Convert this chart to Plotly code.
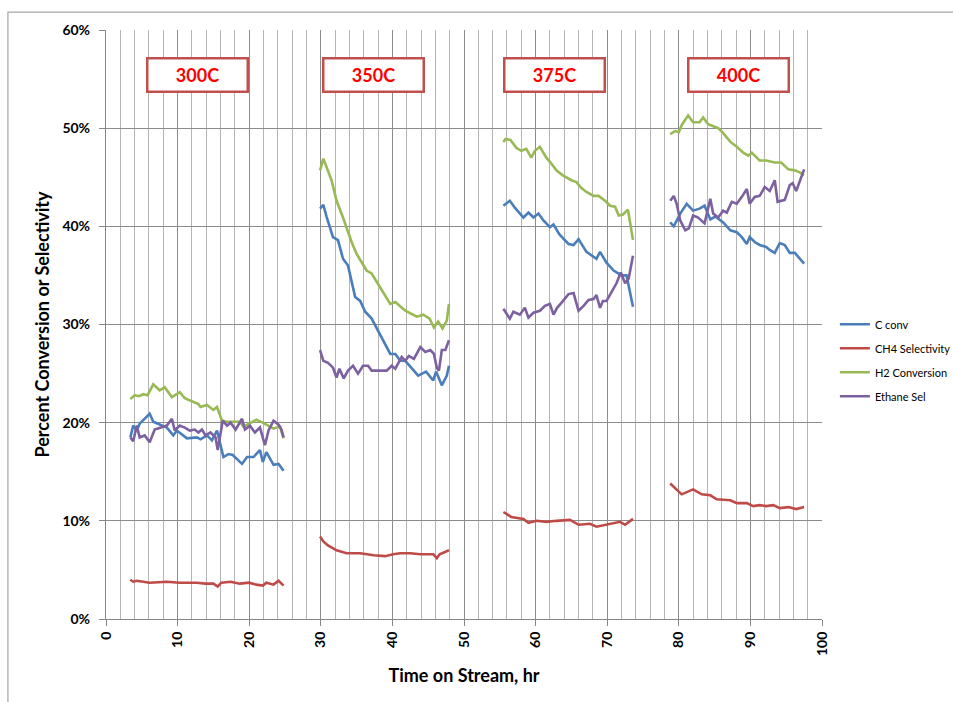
import plotly.graph_objects as go

# Time on stream (hr) and measured values (%), one run per temperature step;
# None separates the runs so each is drawn as its own stretch of line.
C_CONV_T = [3.4, 3.8, 4.3, 4.7, 6.1, 6.6, 8.5, 9.4, 9.9, 11.3, 12.7, 13.2, 14.1, 14.8, 15.5, 16.4, 17.1, 17.7, 19.0, 19.7, 20.6, 21.5, 21.9, 22.4, 23.4, 24.1, 24.8, None,
            29.9, 30.35, 30.8, 31.7, 32.4, 33.1, 33.8, 34.8, 35.5, 36.2, 37.1, 38.3, 39.7, 40.4, 41.1, 41.8, 43.6, 44.7, 45.7, 46.1, 46.9, 47.6, 47.9, None,
            55.5, 56.4, 57.1, 58.3, 59.0, 59.7, 60.4, 61.1, 62.0, 62.5, 63.3, 64.6, 65.3, 66.0, 67.1, 68.5, 69.0, 69.9, 70.9, 72.0, 72.7, 73.6, None,
            78.8, 79.3, 80.2, 81.1, 82.0, 82.9, 83.6, 84.4, 85.1, 86.2, 87.2, 88.1, 88.8, 89.5, 89.9, 90.6, 91.3, 92.2, 92.7, 93.4, 94.1, 94.8, 95.5, 96.2, 97.5]
C_CONV = [18.5, 19.7, 19.2, 19.9, 20.9, 20.1, 19.5, 18.7, 19.2, 18.4, 18.5, 18.3, 18.7, 18.2, 19.2, 16.5, 16.8, 16.7, 15.8, 16.5, 16.5, 17.2, 16.0, 17.0, 15.7, 15.8, 15.1, None,
          41.8, 42.2, 41.0, 38.9, 38.6, 36.7, 36.0, 32.8, 32.4, 31.3, 30.6, 28.9, 27.0, 27.0, 26.3, 26.3, 24.8, 25.2, 24.3, 25.2, 23.8, 24.8, 25.8, None,
          42.1, 42.6, 41.9, 40.9, 41.4, 40.9, 41.3, 40.6, 39.9, 40.2, 39.2, 38.2, 38.1, 38.7, 37.4, 36.7, 37.4, 36.3, 35.5, 35.0, 35.0, 31.8, None,
          40.4, 40.0, 41.3, 42.3, 41.6, 41.8, 42.1, 40.7, 41.0, 40.4, 39.6, 39.4, 38.9, 38.2, 38.9, 38.4, 38.1, 37.9, 37.6, 37.3, 38.3, 38.1, 37.3, 37.3, 36.2]

CH4_SEL_T = [3.4, 3.8, 4.3, 5.4, 6.1, 8.5, 10.3, 12.7, 13.9, 15.0, 15.6, 16.1, 17.4, 18.7, 20.0, 21.0, 21.9, 22.4, 23.4, 24.1, 24.8, None,
             29.9, 30.35, 31.0, 32.2, 33.6, 35.5, 37.4, 39.0, 40.1, 41.1, 42.5, 43.9, 45.7, 46.2, 46.6, 47.9, None,
             55.5, 56.6, 58.3, 59.0, 60.1, 61.5, 62.9, 64.8, 66.0, 67.6, 68.5, 69.9, 70.9, 71.8, 72.5, 73.6, None,
             78.8, 79.5, 80.4, 82.0, 83.2, 84.4, 85.3, 87.2, 88.1, 89.5, 90.4, 91.3, 92.2, 93.2, 94.1, 95.3, 96.4, 97.5]
CH4_SEL = [4.0, 3.8, 3.9, 3.8, 3.7, 3.8, 3.7, 3.7, 3.6, 3.6, 3.3, 3.7, 3.8, 3.6, 3.7, 3.5, 3.4, 3.7, 3.5, 3.9, 3.4, None,
           8.4, 7.9, 7.5, 7.0, 6.7, 6.7, 6.5, 6.4, 6.6, 6.7, 6.7, 6.6, 6.6, 6.2, 6.6, 7.0, None,
           10.9, 10.4, 10.2, 9.8, 10.0, 9.9, 10.0, 10.1, 9.6, 9.7, 9.4, 9.6, 9.7, 9.9, 9.6, 10.2, None,
           13.8, 13.3, 12.7, 13.2, 12.7, 12.6, 12.2, 12.1, 11.8, 11.8, 11.5, 11.6, 11.5, 11.6, 11.3, 11.4, 11.2, 11.4]

H2_CONV_T = [3.4, 4.0, 4.6, 5.2, 5.8, 6.6, 7.5, 8.2, 9.2, 10.3, 11.0, 12.9, 13.2, 14.1, 15.0, 15.5, 16.2, 16.9, 18.7, 19.2, 21.0, 21.9, 23.4, 24.3, 24.8, None,
             29.9, 30.35, 31.5, 32.2, 33.1, 34.3, 35.0, 36.4, 37.1, 38.3, 39.7, 40.4, 41.1, 41.8, 43.4, 44.3, 45.2, 45.8, 46.4, 47.0, 47.6, 47.9, None,
             55.5, 55.8, 56.5, 57.3, 58.0, 58.7, 59.4, 59.9, 60.6, 61.5, 62.2, 62.9, 63.8, 65.0, 65.7, 66.4, 67.1, 68.1, 68.8, 69.7, 70.4, 71.1, 71.6, 72.2, 72.9, 73.6, None,
             78.8, 79.5, 80.0, 80.4, 81.3, 82.0, 82.9, 83.4, 84.1, 84.8, 85.5, 86.2, 87.2, 88.1, 89.0, 89.7, 90.2, 91.3, 92.2, 93.4, 94.3, 95.3, 96.2, 96.9, 97.5]
H2_CONV = [22.4, 22.8, 22.7, 22.9, 22.8, 23.9, 23.3, 23.6, 22.6, 23.1, 22.5, 21.9, 21.6, 21.8, 21.3, 21.6, 20.2, 20.1, 20.1, 19.6, 20.3, 20.0, 19.4, 19.6, 18.4, None,
           45.7, 46.9, 44.7, 42.6, 40.9, 38.4, 37.2, 35.5, 35.2, 33.8, 32.1, 32.3, 31.8, 31.4, 30.8, 31.0, 30.6, 29.7, 30.3, 29.6, 30.4, 32.1, None,
           48.6, 48.9, 48.8, 48.0, 47.7, 47.9, 47.0, 47.7, 48.1, 47.0, 46.4, 45.7, 45.2, 44.7, 44.5, 43.9, 43.5, 43.1, 43.1, 42.6, 42.1, 42.0, 41.1, 41.2, 41.7, 38.6, None,
           49.4, 49.7, 49.6, 50.3, 51.3, 50.6, 50.6, 51.1, 50.4, 50.2, 50.0, 49.5, 48.6, 48.1, 47.5, 47.2, 47.5, 46.7, 46.7, 46.5, 46.5, 45.8, 45.7, 45.5, 45.2]

ETHANE_SEL_T = [3.4, 3.8, 4.3, 4.7, 5.4, 6.1, 6.8, 7.7, 8.5, 9.2, 9.6, 10.3, 11.0, 11.7, 12.4, 12.9, 13.4, 13.9, 14.6, 15.3, 15.6, 16.3, 16.9, 17.4, 18.1, 19.0, 19.4, 20.1, 20.8, 21.5, 22.2, 22.7, 23.4, 24.1, 24.5, 24.8, None,
                29.9, 30.35, 31.0, 31.7, 32.2, 32.6, 33.2, 33.8, 34.5, 35.2, 35.9, 36.6, 37.1, 39.2, 39.9, 40.4, 41.3, 41.8, 42.3, 43.0, 43.9, 44.6, 45.3, 45.8, 46.2, 46.5, 46.9, 47.4, 47.9, None,
                55.5, 56.4, 56.9, 57.8, 58.5, 59.0, 59.7, 60.6, 61.3, 62.0, 62.5, 63.0, 63.6, 64.6, 65.3, 66.0, 66.7, 67.4, 68.1, 68.5, 69.0, 69.4, 69.9, 70.9, 71.3, 71.9, 72.5, 73.0, 73.6, None,
                78.8, 79.3, 79.7, 80.2, 80.9, 81.4, 82.0, 82.7, 83.6, 84.4, 84.8, 85.5, 86.2, 86.7, 87.4, 88.1, 88.8, 89.5, 89.9, 90.6, 91.3, 92.0, 92.7, 93.4, 93.8, 94.8, 95.5, 95.9, 96.4, 97.5]
ETHANE_SEL = [18.5, 18.1, 19.7, 18.5, 18.7, 18.0, 19.3, 19.5, 19.7, 20.4, 19.2, 19.7, 19.5, 19.2, 19.3, 19.0, 19.3, 18.7, 19.0, 18.5, 17.2, 20.2, 19.7, 20.0, 19.3, 20.4, 19.3, 19.7, 19.0, 19.5, 17.7, 19.2, 20.2, 19.8, 19.3, 18.5, None,
              27.4, 26.3, 26.1, 25.6, 24.6, 25.5, 24.5, 25.3, 25.8, 25.0, 25.8, 25.8, 25.3, 25.3, 25.8, 25.5, 26.7, 26.3, 26.8, 26.5, 27.7, 27.2, 27.4, 27.0, 25.6, 25.3, 27.4, 27.4, 28.4, None,
              31.6, 30.6, 31.3, 31.0, 31.7, 30.7, 31.2, 31.4, 31.9, 32.1, 31.0, 31.7, 32.2, 33.1, 33.2, 31.4, 31.9, 32.5, 32.6, 33.0, 31.7, 32.4, 32.4, 33.8, 34.2, 35.3, 34.2, 34.7, 37.0, None,
              42.6, 43.1, 42.3, 40.6, 39.6, 39.8, 41.1, 40.9, 40.3, 42.8, 41.3, 40.9, 41.6, 41.4, 42.5, 42.3, 43.0, 43.8, 42.3, 43.0, 43.1, 44.0, 43.6, 44.7, 42.5, 42.7, 44.2, 44.4, 43.6, 45.8]

TEMP_LABELS = ["300C", "350C", "375C", "400C"]
TEMP_LABEL_X = [12.8, 37.3, 62.7, 88.3]
TEMP_LABEL_Y = 55.4

SERIES = [
    ("C conv", C_CONV_T, C_CONV, "#4a7ebb"),
    ("CH4 Selectivity", CH4_SEL_T, CH4_SEL, "#be4b48"),
    ("H2 Conversion", H2_CONV_T, H2_CONV, "#98b954"),
    ("Ethane Sel", ETHANE_SEL_T, ETHANE_SEL, "#7d60a0"),
]

FONT = "Lato, 'Open Sans', Arial, sans-serif"

fig = go.Figure()
for i, (name, t, v, color) in enumerate(SERIES):
    fig.add_trace(go.Scatter(
        x=t, y=v, name=name, mode="lines",
        line=dict(color=color, width=2.6),
        connectgaps=False,
        legendgroup=f"g{i}",
    ))

for label, lx in zip(TEMP_LABELS, TEMP_LABEL_X):
    fig.add_annotation(
        x=lx, y=TEMP_LABEL_Y, xref="x", yref="y",
        text=f"<b>{label}</b>", showarrow=False,
        font=dict(family=FONT, size=18, color="#ff0000"),
        bgcolor="white", bordercolor="#c0504d", borderwidth=2.5,
        width=96, height=29, align="center", valign="middle",
    )

# outer chart frame
fig.add_shape(type="rect", xref="paper", yref="paper",
              x0=-0.137, x1=1.25, y0=-0.2, y1=1.0305,
              line=dict(color="#a6a6a6", width=1.2), layer="below")

fig.update_layout(
    width=953, height=702,
    margin=dict(l=106, r=131, t=30, b=83, autoexpand=False),
    paper_bgcolor="white", plot_bgcolor="white",
    font=dict(family=FONT, color="#000000"),
    showlegend=True,
    legend=dict(
        x=1.018, y=0.525, xanchor="left", yanchor="top",
        font=dict(family=FONT, size=11, color="#000000"),
        tracegroupgap=5, itemwidth=30,
        bgcolor="rgba(0,0,0,0)",
    ),
    xaxis=dict(
        range=[0, 100], dtick=10, tick0=0,
        showgrid=True, gridcolor="#8c8c8c", gridwidth=1,
        minor=dict(dtick=2, showgrid=True, gridcolor="#b4b4b4", gridwidth=1),
        showline=True, linecolor="#868686", linewidth=1.2,
        ticks="outside", ticklen=6, tickcolor="#868686",
        tickangle=-90,
        tickfont=dict(family=FONT, size=14, color="#000000", weight="bold"),
        zeroline=False,
        title=dict(text="<b>Time on Stream, hr</b>", standoff=14,
                   font=dict(family=FONT, size=18, color="#000000")),
    ),
    yaxis=dict(
        range=[0, 60], dtick=10, tick0=0, ticksuffix="%",
        showgrid=True, gridcolor="#8c8c8c", gridwidth=1,
        showline=True, linecolor="#868686", linewidth=1.2,
        ticks="outside", ticklen=6, tickcolor="#868686",
        ticklabelstandoff=6,
        tickfont=dict(family=FONT, size=14, color="#000000", weight="bold"),
        zeroline=False,
        title=dict(text="<b>Percent Conversion or Selectivity</b>", standoff=8,
                   font=dict(family=FONT, size=18, color="#000000")),
    ),
)

fig.write_html("out.html")
